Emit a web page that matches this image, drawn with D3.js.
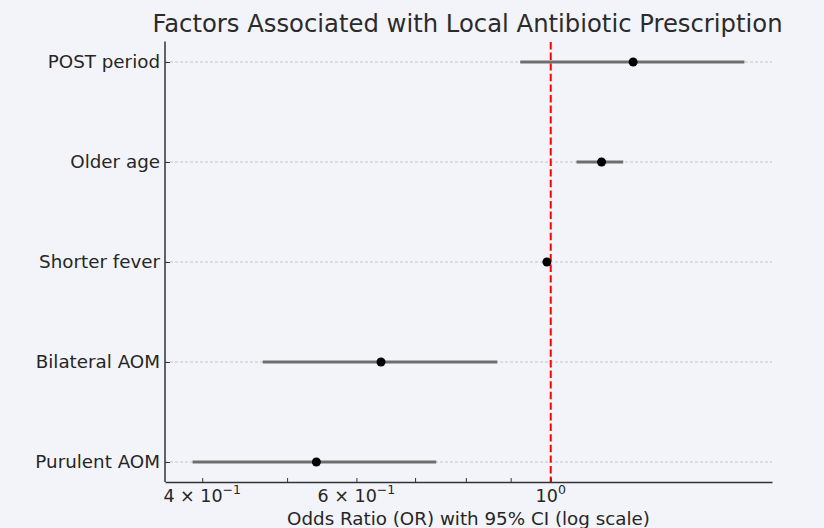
<!DOCTYPE html>
<html>
<head>
<meta charset="utf-8">
<script src="https://cdn.jsdelivr.net/npm/d3@7"></script>
<style>
  html, body { margin: 0; padding: 0; background: #f3f4f9; }
  svg { display: block; font-family: "DejaVu Sans", sans-serif; }
  .domain { stroke: #333; stroke-width: 1.5; }
  .tick line { stroke: #333; }
  .tick text { fill: #262626; font-size: 18.3px; font-family: "DejaVu Sans", sans-serif; }
</style>
</head>
<body>
<div class="container"></div>
<script>
const WIDTH = 824;
const HEIGHT = 528;
const LEFT = 165;
const RIGHT = 772;
const TOP = 42;
const BOTTOM = 482;

// top to bottom as drawn
const factors = ['POST period', 'Older age', 'Shorter fever', 'Bilateral AOM', 'Purulent AOM'];
const oddsRatios = [1.242, 1.143, 0.99, 0.640, 0.540];
const ciLower = [0.923, 1.070, 0.985, 0.469, 0.390];
const ciUpper = [1.664, 1.210, 0.995, 0.869, 0.740];

const xTicks = [0.4, 0.5, 0.6, 0.7, 0.8, 0.9, 1.0];
const xLabels = [[0.4, '4', '\u22121'], [0.6, '6', '\u22121'], [1.0, null, '0']];

var svg = d3.select('.container').append('svg')
  .attr('width', WIDTH)
  .attr('height', HEIGHT);

// matplotlib-style 5% margins on the log range of the data
var lo = Math.log10(d3.min(ciLower));
var hi = Math.log10(d3.max(ciUpper));
var pad = (hi - lo) * 0.05;

var x = d3.scaleLog()
  .domain([Math.pow(10, lo - pad), Math.pow(10, hi + pad)])
  .range([LEFT, RIGHT]);

var y = d3.scalePoint()
  .domain(factors)
  .range([TOP, BOTTOM])
  .padding(0.2);

// title
svg.append('text')
  .attr('x', 467.5)
  .attr('y', 32)
  .attr('text-anchor', 'middle')
  .style('font-size', '24.3px')
  .style('fill', '#2b2b2b')
  .text('Factors Associated with Local Antibiotic Prescription');

// horizontal grid
svg.append('g').selectAll('line')
  .data(factors)
  .enter().append('line')
  .attr('x1', LEFT).attr('x2', RIGHT)
  .attr('y1', function (d) { return y(d); })
  .attr('y2', function (d) { return y(d); })
  .attr('stroke', '#c4c4c4')
  .attr('stroke-width', 1)
  .attr('stroke-dasharray', '3,2');

// reference line at OR = 1
svg.append('line')
  .attr('x1', x(1)).attr('x2', x(1))
  .attr('y1', TOP).attr('y2', BOTTOM)
  .attr('stroke', '#ff0000')
  .attr('stroke-width', 2)
  .attr('stroke-dasharray', '7.4,3.2');

// confidence intervals
svg.append('g').selectAll('line')
  .data(factors)
  .enter().append('line')
  .attr('x1', function (d, i) { return x(ciLower[i]); })
  .attr('x2', function (d, i) { return x(ciUpper[i]); })
  .attr('y1', function (d) { return y(d); })
  .attr('y2', function (d) { return y(d); })
  .attr('stroke', '#6e6e6e')
  .attr('stroke-width', 3);

// point estimates
svg.append('g').selectAll('circle')
  .data(factors)
  .enter().append('circle')
  .attr('cx', function (d, i) { return x(oddsRatios[i]); })
  .attr('cy', function (d) { return y(d); })
  .attr('r', 4.5)
  .attr('fill', '#000');

// axes
var xAxis = d3.axisBottom(x)
  .tickValues(xTicks)
  .tickSize(-4)
  .tickSizeOuter(0)
  .tickFormat('');

svg.append('g')
  .attr('transform', 'translate(0,' + BOTTOM + ')')
  .call(xAxis);

var yAxis = d3.axisLeft(y)
  .tickSize(-5)
  .tickSizeOuter(0)
  .tickPadding(5);

var yg = svg.append('g')
  .attr('transform', 'translate(' + LEFT + ',0)')
  .call(yAxis);
yg.select('.domain').attr('d', 'M0,' + (TOP - 0.5) + 'V' + BOTTOM);

// x tick labels with superscripts
var lab = svg.append('g')
  .selectAll('text')
  .data(xLabels)
  .enter().append('text')
  .attr('x', function (d) { return x(d[0]); })
  .attr('y', BOTTOM + 20)
  .attr('text-anchor', 'middle')
  .style('font-size', '17.5px')
  .style('fill', '#262626');

lab.each(function (d) {
  var t = d3.select(this);
  if (d[1]) t.append('tspan').text(d[1] + ' \u00d7 ');
  t.append('tspan').text('10');
  t.append('tspan').attr('dy', -8).style('font-size', '12.5px').text(d[2]);
});

// x axis label
svg.append('text')
  .attr('x', (LEFT + RIGHT) / 2)
  .attr('y', 525)
  .attr('text-anchor', 'middle')
  .style('font-size', '18.3px')
  .style('fill', '#262626')
  .text('Odds Ratio (OR) with 95% CI (log scale)');
</script>
</body>
</html>
